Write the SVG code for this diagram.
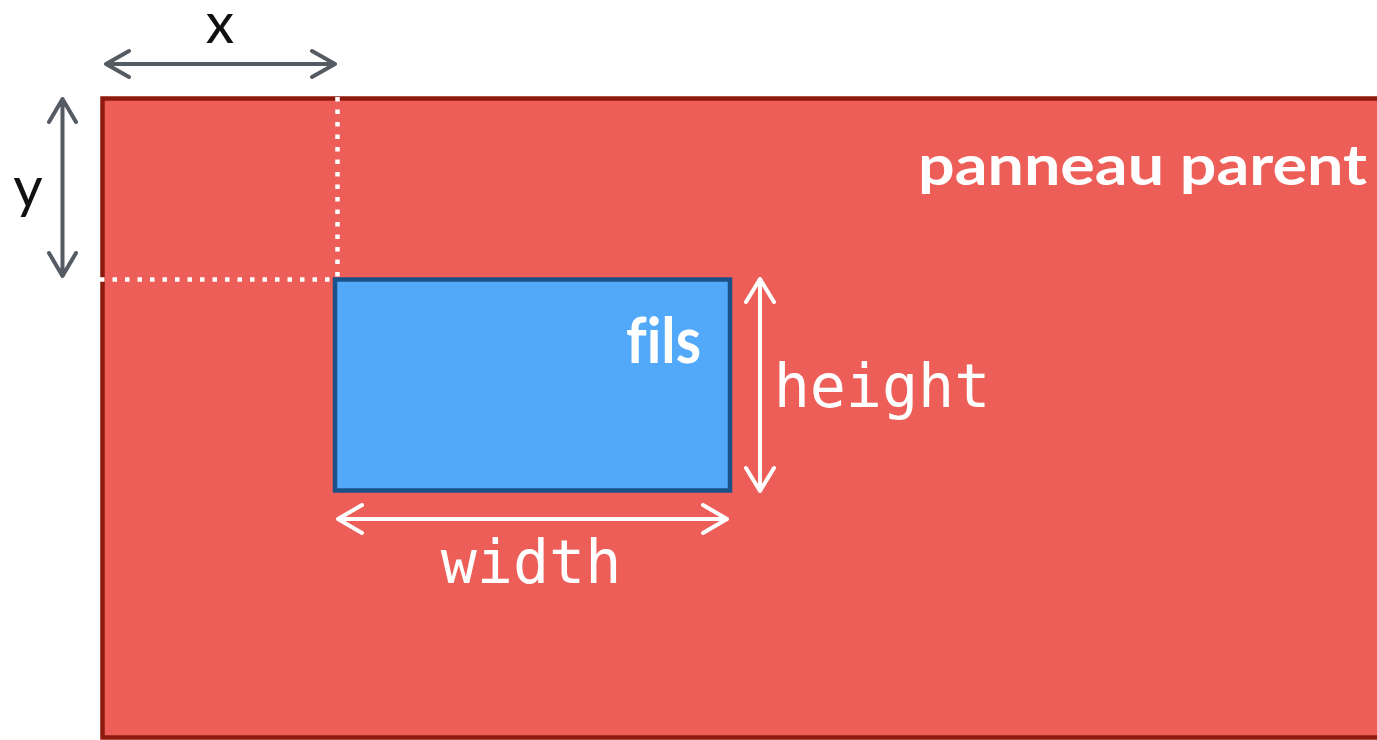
<svg xmlns="http://www.w3.org/2000/svg" width="1377" height="740" viewBox="0 0 1377 740">
  <defs>
    <style>
      .dim-gray { stroke: #555b62; stroke-width: 4; fill: none; stroke-linecap: round; stroke-linejoin: round; }
      .dim-white { stroke: #ffffff; stroke-width: 4; fill: none; stroke-linecap: round; stroke-linejoin: round; }
      .dotted { stroke: #ffffff; stroke-width: 4.5; stroke-dasharray: 4.5 8; fill: none; }
      .label-sans { font-family: Lato, "Noto Sans", "Liberation Sans", sans-serif; font-variant-ligatures: none; }
      .label-bold { font-family: Lato, "Noto Sans", "Liberation Sans", sans-serif; font-weight: 700; fill: #ffffff; font-variant-ligatures: none; }
      .label-mono { font-family: "DejaVu Sans Mono", "Liberation Mono", monospace; fill: #ffffff; font-size: 60px; }
    </style>
  </defs>
  <rect width="1377" height="740" fill="#ffffff"/>

  <g id="parent">
    <rect x="102.5" y="98.5" width="1300" height="639" fill="#ec5e57" stroke="#8e1a0e" stroke-width="4.5"/>
    <text x="918" y="185" class="label-bold" font-size="56" textLength="449" lengthAdjust="spacingAndGlyphs">panneau parent</text>
  </g>

  <g id="connectors">
    <line class="dotted" x1="337.5" y1="97" x2="337.5" y2="278"/>
    <line class="dotted" x1="100" y1="279.5" x2="335" y2="279.5"/>
    <!-- x dimension -->
    <path class="dim-gray" d="M106 64 H335 M129 51 L106 64 L129 77 M312 51 L335 64 L312 77"/>
    <!-- y dimension -->
    <path class="dim-gray" d="M62.5 99 V276 M49 122 L62.5 99 L76 122 M49 253 L62.5 276 L76 253"/>
    <!-- height dimension -->
    <path class="dim-white" d="M760 279 V491 M746 302 L760 279 L774 302 M746 468 L760 491 L774 468"/>
    <!-- width dimension -->
    <path class="dim-white" d="M338 519 H727 M362 505 L338 519 L362 533 M703 505 L727 519 L703 533"/>
  </g>

  <g id="child">
    <rect x="335" y="279.5" width="395" height="211" fill="#52a8f9" stroke="#1a5189" stroke-width="4.5"/>
    <text x="626" y="363" class="label-bold" font-size="64" textLength="75" lengthAdjust="spacingAndGlyphs">fils</text>
  </g>

  <g id="labels">
    <text x="220" y="43" text-anchor="middle" class="label-sans" font-size="57" fill="#111111">x</text>
    <text x="28" y="207" text-anchor="middle" class="label-sans" font-size="57" fill="#111111">y</text>
    <text x="882" y="407" text-anchor="middle" class="label-mono">height</text>
    <text x="531" y="583" text-anchor="middle" class="label-mono">width</text>
  </g>
</svg>
